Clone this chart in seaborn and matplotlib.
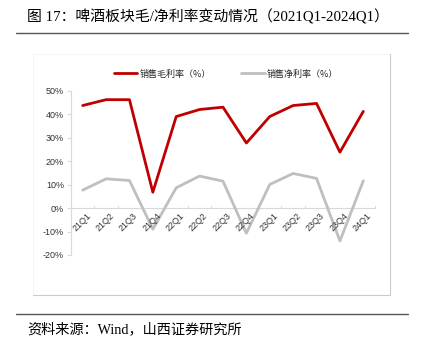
import matplotlib
matplotlib.use("Agg")
import matplotlib.pyplot as plt
import seaborn as sns
import pandas as pd
from matplotlib.lines import Line2D
from matplotlib.patches import Rectangle

quarters = ["21Q1", "21Q2", "21Q3", "21Q4", "22Q1", "22Q2", "22Q3",
            "22Q4", "23Q1", "23Q2", "23Q3", "23Q4", "24Q1"]
gross_margin = [43.8, 46.3, 46.3, 6.8, 39.1, 42.1, 43.1, 27.8, 39.1, 43.8, 44.7, 23.9, 41.3]
net_margin = [7.7, 12.5, 11.8, -9.0, 8.7, 13.7, 11.5, -10.7, 10.1, 14.8, 12.7, -14.0, 11.7]
yticks = [-20, -10, 0, 10, 20, 30, 40, 50]
series_names = ["销售毛利率（%）", "销售净利率（%）"]

sns.set_theme(style="white")
plt.rcParams["font.family"] = ["Liberation Sans", "Noto Sans CJK SC"]

df = pd.DataFrame({
    "q": quarters * 2,
    "x": list(range(len(quarters))) * 2,
    "v": gross_margin + net_margin,
    "s": [series_names[0]] * len(quarters) + [series_names[1]] * len(quarters),
})

W, H = 426, 349
fig = plt.figure(figsize=(W / 100, H / 100), dpi=100)
ax = fig.add_axes([71 / W, 1 - 255 / H, (375 - 71) / W, (255 - 91) / H])

colors = {series_names[0]: "#C00000", series_names[1]: "#BFBFBF"}
sns.lineplot(data=df, x="x", y="v", hue="s", palette=colors, linewidth=2.0,
             ax=ax, legend=False, sort=False)

ax.set_xlim(-0.5, len(quarters) - 0.5)
ax.set_ylim(-20, 50)
ax.set_yticks(yticks)
ax.set_yticklabels([f"{t}%" for t in yticks], fontsize=6.5, color="#333333")
ax.set_xlabel("")
ax.set_ylabel("")
for s in ["top", "right", "bottom"]:
    ax.spines[s].set_visible(False)
ax.spines["left"].set_color("#D9D9D9")
ax.spines["left"].set_linewidth(0.8)
ax.axhline(0, color="#D9D9D9", linewidth=0.8, zorder=0)
ax.tick_params(axis="y", left=True, length=3, width=0.8, color="#D9D9D9", pad=2)
ax.set_xticks([])
# category boundary tick marks on zero line
for i in range(1, len(quarters) + 1):
    ax.plot([i - 0.5, i - 0.5], [0, 0.9], color="#D9D9D9", linewidth=0.8,
            clip_on=False, zorder=0)
# rotated category labels hanging from zero line
for i, q in enumerate(quarters):
    ax.text(i + 0.15, -1.5, q, rotation=45, ha="right", va="top",
            fontsize=6.5, color="#333333", rotation_mode="anchor")

# legend
handles = [Line2D([0], [0], color=colors[n], linewidth=2.0) for n in series_names]
fig.legend(handles, series_names, loc="center", bbox_to_anchor=(226 / W, 1 - 74 / H),
           ncol=2, frameon=False, handlelength=2.6, handletextpad=0.2,
           columnspacing=3.4, prop={"family": ["Noto Sans CJK SC"], "size": 6.5})

# chart frame
fig.patches.append(Rectangle((33 / W, 1 - 295 / H), (390 - 33) / W, (295 - 54) / H,
                             transform=fig.transFigure, fill=False,
                             edgecolor="#F2F2F2", linewidth=0.6))
fig.add_artist(Line2D([390 / W, 390 / W], [1 - 295 / H, 1 - 54 / H],
                      transform=fig.transFigure, color="#CCCCCC", linewidth=0.8))
fig.add_artist(Line2D([33 / W, 390 / W], [1 - 295 / H, 1 - 295 / H],
                      transform=fig.transFigure, color="#CCCCCC", linewidth=0.8))

# title and rules
fig.text(27 / W, 1 - 17 / H, "图 17：啤酒板块毛/净利率变动情况（2021Q1-2024Q1）",
         ha="left", va="center", fontsize=10.7, color="#000000",
         family=["Liberation Serif", "Noto Sans CJK SC"])
fig.add_artist(Line2D([16 / W, 408 / W], [1 - 33 / H, 1 - 33 / H],
                      transform=fig.transFigure, color="#555555", linewidth=1.0))
fig.add_artist(Line2D([16 / W, 408 / W], [1 - 314 / H, 1 - 314 / H],
                      transform=fig.transFigure, color="#555555", linewidth=1.0))
fig.text(27 / W, 1 - 329 / H, "资料来源：Wind，山西证券研究所",
         ha="left", va="center", fontsize=10.2, color="#000000",
         family=["Liberation Serif", "Noto Sans CJK SC"])

fig.savefig("out.png", dpi=100)
